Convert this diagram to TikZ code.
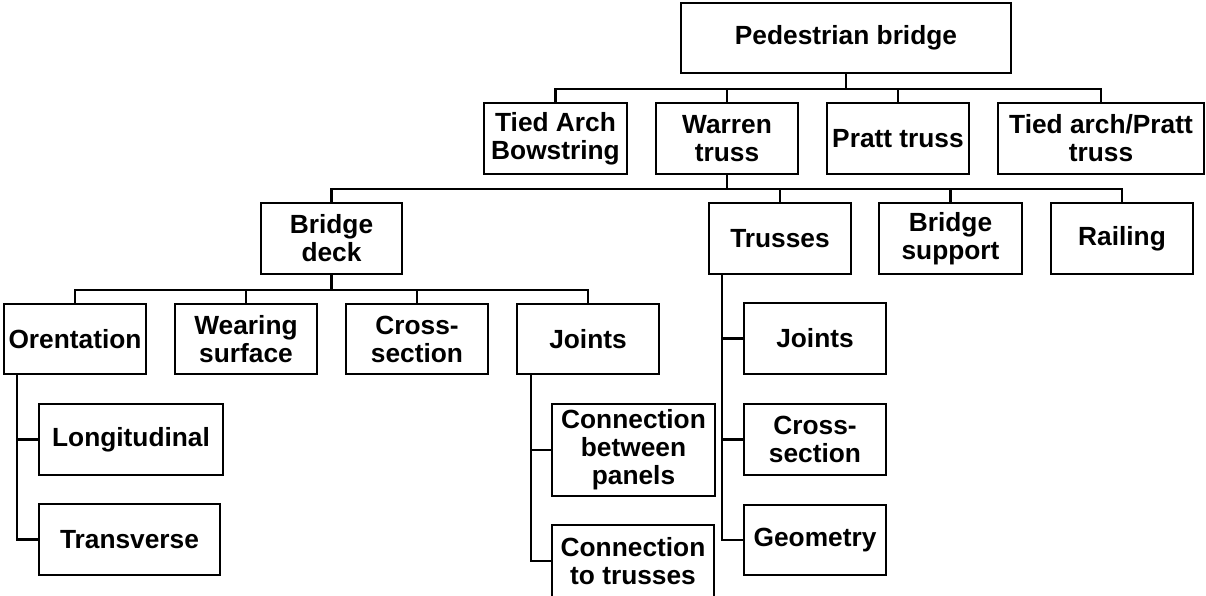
\documentclass[tikz,border=0pt]{standalone}
\usepackage{fontspec}
\setmainfont{Liberation Sans}
\begin{document}
\begin{tikzpicture}[x=1pt,y=-1pt,
  box/.style={draw, line width=2.4pt, rectangle, inner sep=0pt, align=center,
    minimum width=142pt, minimum height=71pt,
    font=\fontsize{26.3}{28}\selectfont\bfseries},
  conn/.style={line width=2.4pt}]
\useasboundingbox (0,0) rectangle (1206,595);
% level 1
\node[box, minimum width=330pt, minimum height=70pt] (ped) at (846,38) {Pedestrian bridge};
% level 2
\node[box, minimum width=143pt] (tab) at (555.5,138.5) {Tied Arch\\Bowstring};
\node[box] (war) at (727,138.5) {Warren\\truss};
\node[box] (pra) at (898,138.5) {Pratt truss};
\node[box, minimum width=206pt] (tap) at (1101,138.5) {Tied arch/Pratt\\truss};
% level 3
\node[box, minimum width=141pt] (bd) at (331.5,238.5) {Bridge\\deck};
\node[box] (tru) at (780,238.5) {Trusses};
\node[box, minimum width=143pt] (bs) at (950.5,238.5) {Bridge\\support};
\node[box] (rai) at (1122,238.5) {Railing};
% level 4 (deck)
\node[box, minimum height=70pt] (ori) at (75,339) {Orentation};
\node[box, minimum height=70pt] (wea) at (246,339) {Wearing\\surface};
\node[box, minimum height=70pt] (cro) at (417,339) {Cross-\\section};
\node[box, minimum height=70pt] (joi) at (588,339) {Joints};
% orientation children
\node[box, minimum width=184pt] (lon) at (131,439.5) {Longitudinal};
\node[box, minimum width=181pt] (tra) at (129.5,539.5) {Transverse};
% joints children
\node[box, minimum width=163pt, minimum height=92pt] (cbp) at (633.5,450) {Connection\\between\\panels};
\node[box, minimum width=162pt, minimum height=72pt] (ctt) at (633,561) {Connection\\to trusses};
% trusses children
\node[box] (tj) at (815,338.5) {Joints};
\node[box] (tc) at (815,439.5) {Cross-\\section};
\node[box, minimum height=70pt] (tg) at (815,540) {Geometry};
% connectors level 1 -> 2
\foreach \c in {tab,war,pra,tap}
  \draw[conn] (ped.south) -- ++(0,15) -| (\c.north);
% level 2 -> 3
\foreach \c in {bd,tru,bs,rai}
  \draw[conn] (war.south) -- ++(0,14) -| (\c.north);
% level 3 -> 4
\foreach \c in {ori,wea,cro,joi}
  \draw[conn] (bd.south) -- ++(0,15) -| (\c.north);
% spines
\coordinate (os) at ([xshift=14pt]ori.south west);
\draw[conn] (os) |- (lon.west);
\draw[conn] (os) |- (tra.west);
\coordinate (js) at ([xshift=15pt]joi.south west);
\draw[conn] (js) |- (cbp.west);
\draw[conn] (js) |- (ctt.west);
\coordinate (ts) at ([xshift=14pt]tru.south west);
\draw[conn] (ts) |- (tj.west);
\draw[conn] (ts) |- (tc.west);
\draw[conn] (ts) |- (tg.west);
\end{tikzpicture}
\end{document}
